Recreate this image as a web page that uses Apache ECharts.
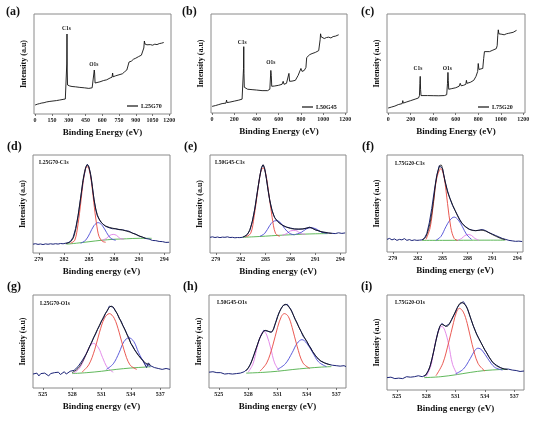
<!DOCTYPE html>
<html><head><meta charset="utf-8">
<script src="https://cdn.jsdelivr.net/npm/echarts@6/dist/echarts.min.js"></script>
<style>html,body{margin:0;padding:0;background:#fff}#c{width:537px;height:421px}</style>
</head><body><div id="c"></div>
<script>
// ---------- DATA ----------
const surveyTicksA = [0,150,300,450,600,750,900,1050,1200];
const surveyTicksBC = [0,200,400,600,800,1000,1200];
const c1sTicks = [279,282,285,288,291,294];
const o1sTicks = [525,528,531,534,537];
const sampleNames = ['L25G70','L50G45','L75G20'];
const c1sNames = ['L25G70-C1s','L50G45-C1s','L75G20-C1s'];
const o1sNames = ['L25G70-O1s','L50G45-O1s','L75G20-O1s'];
const panelLetters = ['(a)','(b)','(c)','(d)','(e)','(f)','(g)','(h)','(i)'];

const surveyA = [[0,0.09],[20,0.098],[40,0.104],[60,0.11],[80,0.113],[100,0.12],[105,0.135],[110,0.12],[125,0.125],[130,0.14],[135,0.125],[160,0.13],[190,0.134],[220,0.14],[250,0.146],[270,0.15],[280,0.17],[283,0.5],[285,0.80],[287,0.45],[290,0.29],[295,0.28],[300,0.30],[310,0.28],[330,0.275],[360,0.272],[400,0.266],[440,0.262],[480,0.256],[510,0.262],[525,0.28],[529,0.44],[532,0.41],[536,0.31],[550,0.312],[580,0.322],[610,0.334],[640,0.342],[670,0.36],[688,0.368],[693,0.41],[697,0.372],[720,0.382],[750,0.392],[780,0.402],[800,0.422],[820,0.44],[830,0.48],[840,0.52],[860,0.528],[880,0.548],[900,0.558],[925,0.574],[950,0.588],[965,0.60],[972,0.66],[977,0.73],[982,0.70],[990,0.684],[1000,0.692],[1010,0.686],[1030,0.694],[1050,0.688],[1070,0.698],[1090,0.694],[1110,0.704],[1130,0.708],[1150,0.715]];
const surveyB = [[0,0.067],[30,0.075],[60,0.085],[90,0.095],[100,0.11],[105,0.095],[125,0.10],[130,0.13],[135,0.105],[160,0.11],[200,0.12],[240,0.13],[270,0.14],[280,0.16],[283,0.45],[285,0.67],[287,0.40],[290,0.26],[300,0.245],[320,0.24],[360,0.236],[400,0.232],[450,0.226],[500,0.226],[520,0.24],[529,0.43],[533,0.38],[537,0.27],[560,0.272],[600,0.28],[630,0.29],[640,0.32],[648,0.29],[670,0.30],[688,0.305],[692,0.40],[698,0.32],[720,0.322],[750,0.33],[775,0.38],[790,0.40],[800,0.45],[810,0.42],[830,0.43],[845,0.46],[852,0.56],[860,0.58],[880,0.59],[900,0.60],[930,0.612],[960,0.63],[968,0.65],[973,0.74],[977,0.80],[982,0.77],[995,0.76],[1010,0.752],[1030,0.762],[1050,0.766],[1070,0.758],[1090,0.772],[1110,0.776],[1125,0.782],[1140,0.79]];
const surveyC = [[0,0.05],[30,0.06],[60,0.07],[90,0.085],[100,0.10],[105,0.085],[125,0.095],[130,0.125],[135,0.10],[160,0.11],[200,0.125],[240,0.14],[270,0.152],[278,0.175],[282,0.30],[285,0.37],[288,0.24],[292,0.176],[300,0.178],[350,0.176],[400,0.175],[450,0.174],[500,0.176],[520,0.185],[527,0.30],[531,0.41],[534,0.33],[538,0.24],[560,0.245],[600,0.255],[630,0.27],[640,0.30],[648,0.275],[670,0.28],[690,0.29],[695,0.33],[700,0.30],[730,0.31],[760,0.33],[780,0.37],[795,0.42],[800,0.50],[806,0.44],[820,0.43],[840,0.45],[848,0.55],[855,0.62],[870,0.61],[900,0.62],[930,0.635],[960,0.65],[968,0.68],[973,0.78],[978,0.84],[983,0.80],[995,0.79],[1010,0.795],[1030,0.79],[1050,0.80],[1070,0.805],[1090,0.81],[1110,0.815],[1125,0.82],[1140,0.835]];
// peak label positions [text, x, y]
const surveyPeakLabels = [
  [['C1s',280,0.85],['O1s',525,0.49]],
  [['C1s',270,0.71],['O1s',529,0.505]],
  [['C1s',265,0.445],['O1s',526,0.445]]
];

// C1s (d)
const dRaw = [[278.3,0.09],[278.6,0.095],[278.9,0.088],[279.2,0.092],[279.5,0.086],[279.8,0.093],[280.1,0.089],[280.4,0.094],[280.7,0.09],[281,0.095],[281.3,0.091],[281.6,0.097],[281.9,0.094],[282.2,0.1],[282.5,0.105],[282.8,0.12],[283.1,0.16],[283.4,0.25],[283.7,0.38],[284,0.56],[284.3,0.74],[284.6,0.87],[284.8,0.905],[285,0.88],[285.2,0.8],[285.4,0.68],[285.6,0.55],[285.8,0.45],[286,0.38],[286.3,0.33],[286.6,0.3],[287,0.272],[287.4,0.258],[287.8,0.248],[288.2,0.247],[288.6,0.238],[289,0.237],[289.4,0.228],[289.8,0.222],[290.2,0.203],[290.6,0.192],[291,0.173],[291.4,0.162],[291.8,0.148],[292.2,0.142],[292.6,0.128],[293,0.126],[293.4,0.118],[293.8,0.116],[294.2,0.108],[294.6,0.11]];
const dFit = [[282.2,0.095],[282.8,0.115],[283.2,0.17],[283.6,0.33],[284,0.56],[284.4,0.8],[284.8,0.9],[285.2,0.8],[285.6,0.55],[286,0.39],[286.5,0.31],[287,0.275],[288,0.25],[289,0.235],[290,0.21],[291,0.175],[291.8,0.15]];
const dRed = [[282.8,0.1],[283.3,0.13],[283.7,0.3],[284,0.5],[284.3,0.72],[284.6,0.86],[284.8,0.88],[285,0.86],[285.3,0.72],[285.6,0.5],[285.9,0.3],[286.2,0.17],[286.6,0.12],[287,0.11]];
const dBlue = [[284,0.1],[284.6,0.13],[285.1,0.2],[285.6,0.28],[286.1,0.31],[286.6,0.28],[287.1,0.21],[287.6,0.15],[288.2,0.13]];
const dPink = [[286.6,0.13],[287.1,0.15],[287.5,0.18],[287.9,0.19],[288.3,0.18],[288.7,0.15],[289.2,0.14]];
const dGreen = [[282.3,0.09],[283.5,0.1],[285,0.115],[286.5,0.13],[288,0.14],[289.5,0.145],[291,0.15],[292.5,0.15]];

// C1s (e)
const eRaw = [[278.3,0.16],[278.6,0.165],[278.9,0.158],[279.2,0.163],[279.5,0.157],[279.8,0.162],[280.1,0.16],[280.4,0.165],[280.7,0.158],[281,0.16],[281.3,0.155],[281.6,0.158],[281.9,0.157],[282.2,0.16],[282.5,0.17],[282.8,0.19],[283.1,0.23],[283.4,0.32],[283.7,0.45],[284,0.62],[284.3,0.78],[284.5,0.87],[284.7,0.9],[284.9,0.86],[285.1,0.76],[285.3,0.64],[285.5,0.54],[285.8,0.43],[286.1,0.36],[286.5,0.32],[287,0.285],[287.5,0.265],[288,0.255],[288.5,0.245],[289,0.242],[289.5,0.246],[290,0.255],[290.3,0.264],[290.6,0.255],[291,0.236],[291.4,0.226],[291.8,0.214],[292.2,0.211],[292.6,0.204],[293,0.201],[293.4,0.198],[293.8,0.206],[294.2,0.2],[294.6,0.205]];
const eFit = [[282.3,0.165],[282.8,0.19],[283.3,0.29],[283.8,0.5],[284.3,0.78],[284.7,0.9],[285.1,0.76],[285.5,0.54],[286,0.38],[286.6,0.31],[287.5,0.265],[288.5,0.245],[289.5,0.245],[290.3,0.26],[291,0.237],[292,0.212],[293,0.2]];
const eRed = [[282.6,0.165],[283.2,0.2],[283.6,0.36],[284,0.6],[284.4,0.82],[284.7,0.87],[285,0.82],[285.4,0.6],[285.8,0.36],[286.2,0.2],[286.7,0.17]];
const eBlue = [[284.3,0.17],[284.9,0.2],[285.5,0.28],[285.9,0.32],[286.3,0.33],[286.8,0.31],[287.3,0.25],[287.9,0.2],[288.5,0.185]];
const ePink = [[287,0.18],[287.6,0.2],[288,0.225],[288.4,0.23],[288.8,0.225],[289.2,0.2],[289.8,0.19]];
const eBlue2 = [[288.6,0.19],[289.3,0.21],[289.9,0.245],[290.5,0.258],[291.1,0.245],[291.7,0.215],[292.4,0.2]];
const eGreen = [[282.2,0.16],[283.5,0.165],[285,0.172],[286.5,0.18],[288,0.186],[289.5,0.192],[291,0.196],[292.5,0.198]];

// C1s (f)
const fRaw = [[278.3,0.13],[278.6,0.14],[278.9,0.125],[279.2,0.135],[279.5,0.12],[279.8,0.13],[280.1,0.125],[280.4,0.138],[280.7,0.12],[281,0.128],[281.3,0.118],[281.6,0.125],[281.9,0.12],[282.2,0.122],[282.5,0.125],[282.8,0.14],[283.1,0.19],[283.4,0.3],[283.7,0.45],[284,0.63],[284.3,0.79],[284.6,0.89],[284.8,0.91],[285,0.86],[285.3,0.73],[285.6,0.63],[285.9,0.55],[286.2,0.48],[286.5,0.43],[286.8,0.38],[287.1,0.33],[287.4,0.29],[287.8,0.26],[288.2,0.235],[288.6,0.225],[289,0.22],[289.4,0.225],[289.8,0.232],[290.2,0.22],[290.6,0.2],[291,0.185],[291.4,0.17],[291.8,0.155],[292.2,0.14],[292.6,0.13],[293,0.12],[293.4,0.115],[293.8,0.11],[294.2,0.112],[294.6,0.108]];
const fFit = [[282.6,0.125],[283,0.16],[283.5,0.3],[283.9,0.52],[284.3,0.78],[284.8,0.9],[285.2,0.77],[285.6,0.62],[286,0.53],[286.5,0.43],[287,0.34],[287.5,0.28],[288,0.245],[288.5,0.225],[289,0.22],[289.6,0.225],[290.2,0.215],[291,0.18],[292,0.14],[292.6,0.125]];
const fRed = [[283,0.13],[283.5,0.25],[283.9,0.5],[284.3,0.76],[284.8,0.86],[285.2,0.76],[285.6,0.5],[286,0.25],[286.4,0.14],[286.8,0.12]];
const fBlue = [[284.2,0.12],[284.8,0.16],[285.4,0.26],[285.9,0.33],[286.4,0.36],[286.9,0.33],[287.4,0.26],[287.9,0.18],[288.5,0.13]];
const fPink = [[286.8,0.12],[287.3,0.14],[287.7,0.17],[288.1,0.18],[288.5,0.17],[288.9,0.14],[289.4,0.12]];
const fGreen = [[282.5,0.12],[285,0.12],[287.5,0.121],[290,0.122],[292.5,0.122]];

// O1s (g)
const gRaw = [[524,0.15],[524.2,0.14],[524.4,0.16],[524.6,0.13],[524.8,0.155],[525,0.14],[525.2,0.16],[525.4,0.145],[525.6,0.13],[525.8,0.155],[526,0.14],[526.2,0.165],[526.4,0.15],[526.6,0.17],[526.8,0.145],[527,0.16],[527.2,0.175],[527.4,0.15],[527.6,0.17],[527.8,0.18],[528,0.17],[528.2,0.19],[528.4,0.2],[528.6,0.23],[528.8,0.25],[529,0.29],[529.2,0.31],[529.4,0.36],[529.6,0.4],[529.8,0.45],[530,0.49],[530.2,0.54],[530.4,0.58],[530.6,0.63],[530.8,0.67],[531,0.72],[531.2,0.75],[531.4,0.8],[531.6,0.83],[531.8,0.88],[532,0.89],[532.2,0.87],[532.4,0.83],[532.6,0.8],[532.8,0.75],[533,0.72],[533.2,0.67],[533.4,0.63],[533.6,0.58],[533.8,0.54],[534,0.48],[534.2,0.45],[534.4,0.41],[534.6,0.39],[534.8,0.35],[535,0.33],[535.2,0.3],[535.4,0.28],[535.6,0.22],[535.8,0.27],[536,0.24],[536.2,0.25],[536.4,0.22],[536.6,0.24],[536.8,0.21],[537,0.23],[537.2,0.2],[537.4,0.22],[537.6,0.21],[537.8,0.22],[538,0.2]];
const gFit = [[528,0.165],[528.6,0.21],[529.2,0.31],[529.8,0.45],[530.4,0.59],[531,0.72],[531.5,0.82],[532,0.88],[532.5,0.82],[533,0.71],[533.5,0.6],[534,0.48],[534.5,0.39],[535,0.32],[535.5,0.27],[536,0.245]];
const gRed = [[529,0.17],[529.7,0.25],[530.3,0.41],[530.8,0.6],[531.3,0.75],[531.8,0.8],[532.3,0.75],[532.8,0.6],[533.3,0.41],[533.9,0.25],[534.6,0.2]];
const gBlue = [[531.5,0.2],[532.2,0.26],[532.8,0.38],[533.3,0.5],[533.8,0.54],[534.3,0.5],[534.8,0.38],[535.4,0.27],[536,0.23]];
const gPink = [[528.2,0.16],[528.8,0.22],[529.3,0.33],[529.7,0.43],[530.2,0.48],[530.7,0.43],[531.1,0.33],[531.6,0.22],[532.2,0.17]];
const gGreen = [[528,0.155],[529.5,0.165],[531,0.18],[532.5,0.2],[534,0.215],[535.5,0.225],[536,0.228]];

// O1s (h)
const hRaw = [[524,0.17],[524.2,0.16],[524.4,0.175],[524.6,0.155],[524.8,0.165],[525,0.15],[525.2,0.165],[525.4,0.16],[525.6,0.15],[525.8,0.165],[526,0.155],[526.2,0.16],[526.4,0.15],[526.6,0.16],[526.8,0.155],[527,0.165],[527.2,0.16],[527.4,0.17],[527.6,0.175],[527.8,0.19],[528,0.21],[528.2,0.25],[528.4,0.3],[528.6,0.36],[528.8,0.42],[529,0.48],[529.2,0.54],[529.4,0.58],[529.6,0.62],[529.8,0.63],[530,0.61],[530.2,0.6],[530.4,0.6],[530.6,0.63],[530.8,0.7],[531,0.77],[531.2,0.82],[531.4,0.86],[531.6,0.89],[531.8,0.91],[532,0.9],[532.2,0.87],[532.4,0.84],[532.6,0.79],[532.8,0.74],[533,0.7],[533.2,0.65],[533.4,0.61],[533.6,0.56],[533.8,0.53],[534,0.5],[534.2,0.46],[534.4,0.43],[534.6,0.39],[534.8,0.36],[535,0.33],[535.2,0.31],[535.4,0.29],[535.6,0.28],[535.8,0.27],[536,0.26],[536.2,0.255],[536.4,0.25],[536.6,0.245],[536.8,0.25],[537,0.24],[537.2,0.245],[537.4,0.235],[537.6,0.25],[537.8,0.24],[538,0.23]];
const hFit = [[527.8,0.185],[528.3,0.27],[528.8,0.42],[529.3,0.56],[529.8,0.62],[530.3,0.6],[530.8,0.7],[531.3,0.84],[531.8,0.9],[532.3,0.85],[532.8,0.74],[533.4,0.61],[534,0.5],[534.6,0.39],[535.2,0.31],[535.8,0.27],[536.4,0.25]];
const hRed = [[529.2,0.18],[529.9,0.27],[530.5,0.45],[531,0.65],[531.4,0.77],[531.7,0.8],[532.1,0.77],[532.5,0.65],[533,0.45],[533.6,0.27],[534.3,0.21]];
const hBlue = [[531,0.2],[531.8,0.26],[532.5,0.38],[533,0.48],[533.5,0.52],[534,0.48],[534.6,0.38],[535.2,0.28],[536,0.23]];
const hPink = [[528,0.17],[528.5,0.26],[528.9,0.43],[529.3,0.57],[529.6,0.61],[529.9,0.57],[530.3,0.43],[530.7,0.27],[531.2,0.18]];
const hGreen = [[527.8,0.16],[529.5,0.168],[531,0.18],[532.5,0.198],[534,0.213],[535.5,0.225],[536.5,0.23]];

// O1s (i)
const iRaw = [[524,0.13],[524.2,0.125],[524.4,0.135],[524.6,0.13],[524.8,0.12],[525,0.13],[525.2,0.125],[525.4,0.135],[525.6,0.12],[525.8,0.13],[526,0.14],[526.2,0.125],[526.4,0.135],[526.6,0.13],[526.8,0.14],[527,0.135],[527.2,0.15],[527.4,0.13],[527.6,0.14],[527.8,0.145],[528,0.16],[528.2,0.2],[528.4,0.25],[528.6,0.33],[528.8,0.42],[529,0.52],[529.2,0.61],[529.4,0.67],[529.6,0.7],[529.8,0.69],[530,0.67],[530.2,0.67],[530.4,0.7],[530.6,0.74],[530.8,0.78],[531,0.82],[531.2,0.87],[531.4,0.9],[531.6,0.92],[531.8,0.93],[532,0.9],[532.2,0.86],[532.4,0.8],[532.6,0.74],[532.8,0.68],[533,0.63],[533.2,0.58],[533.4,0.54],[533.6,0.5],[533.8,0.46],[534,0.42],[534.2,0.39],[534.4,0.35],[534.6,0.32],[534.8,0.29],[535,0.27],[535.2,0.26],[535.4,0.25],[535.6,0.235],[535.8,0.23],[536,0.22],[536.2,0.215],[536.4,0.22],[536.6,0.2],[536.8,0.21],[537,0.2],[537.2,0.205],[537.4,0.2],[537.6,0.195],[537.8,0.2],[538,0.2]];
const iFit = [[527.8,0.14],[528.3,0.22],[528.8,0.42],[529.2,0.6],[529.6,0.69],[530.1,0.67],[530.6,0.74],[531.1,0.85],[531.6,0.92],[532.1,0.88],[532.6,0.74],[533.1,0.6],[533.7,0.48],[534.3,0.37],[535,0.27],[535.7,0.23],[536.3,0.215]];
const iRed = [[529,0.15],[529.7,0.28],[530.3,0.5],[530.8,0.71],[531.1,0.82],[531.4,0.86],[531.8,0.82],[532.2,0.7],[532.7,0.48],[533.3,0.28],[534,0.2]];
const iBlue = [[531,0.17],[531.8,0.22],[532.5,0.33],[533,0.42],[533.3,0.44],[533.7,0.42],[534.3,0.33],[535,0.24],[535.8,0.21]];
const iPink = [[528,0.14],[528.5,0.26],[528.9,0.48],[529.3,0.63],[529.6,0.67],[529.9,0.63],[530.3,0.48],[530.7,0.27],[531.2,0.16]];
const iGreen = [[527.8,0.13],[529.5,0.14],[531,0.16],[532.5,0.185],[534,0.205],[535.5,0.215],[536.3,0.218]];

// ---------- LAYOUT / STYLE ----------
const SERIF = '"Liberation Serif", "DejaVu Serif", serif';
const grids = [
  {left:34, top:14, width:137, height:100},
  {left:211, top:14, width:136, height:99},
  {left:387, top:14, width:138, height:99},
  {left:33, top:155, width:137, height:98},
  {left:210, top:155, width:136, height:98},
  {left:387, top:155, width:136, height:97},
  {left:33, top:295, width:137, height:93},
  {left:209, top:295, width:137, height:93},
  {left:387, top:295, width:137, height:95}
];
const xCfg = [
  {min:-10, max:1215, ticks:surveyTicksA, name:'Binding Energy (eV)'},
  {min:-10, max:1215, ticks:surveyTicksBC, name:'Binding Energy (eV)'},
  {min:-10, max:1215, ticks:surveyTicksBC, name:'Binding Energy (eV)'},
  {min:278.3, max:294.7, ticks:c1sTicks, name:'Binding energy (eV)'},
  {min:278.3, max:294.7, ticks:c1sTicks, name:'Binding energy (eV)'},
  {min:278.3, max:294.7, ticks:c1sTicks, name:'Binding energy (eV)'},
  {min:524, max:538, ticks:o1sTicks, name:'Binding energy (eV)'},
  {min:524, max:538, ticks:o1sTicks, name:'Binding energy (eV)'},
  {min:524, max:538, ticks:o1sTicks, name:'Binding energy (eV)'}
];
const C = {raw:'#1c2478', fit:'#111111', red:'#e8473f', blue:'#4b4bd6', pink:'#e07ee6', green:'#4fb04a'};

function line(name, data, gi, color, width, smooth, z) {
  return {type:'line', name, data, xAxisIndex:gi, yAxisIndex:gi, symbol:'none', showSymbol:false,
    smooth: smooth ? 0.35 : false, lineStyle:{color, width}, itemStyle:{color}, silent:true, z: z||2};
}

const series = [];
const surveys = [surveyA, surveyB, surveyC];
surveys.forEach((d, i) => {
  const s = line(sampleNames[i], d, i, '#111', 0.9, false, 3);
  s.markPoint = {symbol:'circle', symbolSize:0, silent:true,
    label:{show:true, position:'inside', formatter:'{b}', fontSize:5.5, fontWeight:'bold', fontFamily:SERIF, color:'#111'},
    data: surveyPeakLabels[i].map(p => ({name:p[0], coord:[p[1], p[2]]}))};
  series.push(s);
});
const fits = [
  {raw:dRaw, fit:dFit, red:dRed, blue:dBlue, pink:dPink, green:dGreen},
  {raw:eRaw, fit:eFit, red:eRed, blue:eBlue, pink:ePink, green:eGreen, blue2:eBlue2},
  {raw:fRaw, fit:fFit, red:fRed, blue:fBlue, pink:fPink, green:fGreen},
  {raw:gRaw, fit:gFit, red:gRed, blue:gBlue, pink:gPink, green:gGreen},
  {raw:hRaw, fit:hFit, red:hRed, blue:hBlue, pink:hPink, green:hGreen},
  {raw:iRaw, fit:iFit, red:iRed, blue:iBlue, pink:iPink, green:iGreen}
];
fits.forEach((f, k) => {
  const gi = k + 3;
  series.push(line('green'+gi, f.green, gi, C.green, 0.9, true, 2));
  series.push(line('pink'+gi, f.pink, gi, C.pink, 0.9, true, 2));
  series.push(line('blue'+gi, f.blue, gi, C.blue, 0.9, true, 2));
  if (f.blue2) series.push(line('blue2'+gi, f.blue2, gi, C.blue, 0.9, true, 2));
  series.push(line('red'+gi, f.red, gi, C.red, 0.9, true, 2));
  series.push(line('raw'+gi, f.raw, gi, C.raw, 1, false, 3));
  series.push(line('fit'+gi, f.fit, gi, C.fit, 0.8, true, 4));
});

const xAxis = xCfg.map((c, i) => ({
  gridIndex:i, type:'value', min:c.min, max:c.max,
  axisLine:{show:false}, splitLine:{show:false},
  axisTick:{show:true, length:2, customValues:c.ticks, lineStyle:{color:'#555', width:0.8}},
  axisLabel:{show:true, customValues:c.ticks, formatter: v => String(v), fontSize:6, fontWeight:'bold', fontFamily:SERIF, color:'#222', margin:3},
  name:c.name, nameLocation:'middle', nameGap:14,
  nameTextStyle:{fontSize:9, fontWeight:'bold', fontFamily:SERIF, color:'#111'}
}));
const yAxis = grids.map((g, i) => ({
  gridIndex:i, type:'value', min:0, max:1,
  axisLine:{show:false}, axisTick:{show:false}, axisLabel:{show:false}, splitLine:{show:false},
  name:'Intensity (a.u)', nameLocation:'middle', nameGap:6,
  nameTextStyle:{fontSize:8, fontWeight:'bold', fontFamily:SERIF, color:'#111'}
}));

const legendPos = [{left:127, top:103}, {left:302, top:104}, {left:478, top:104}];
const legend = sampleNames.map((n, i) => ({
  data:[{name:n, icon:'rect'}], left:legendPos[i].left, top:legendPos[i].top, itemWidth:11, itemHeight:1.2, itemGap:2, padding:0,
  textStyle:{fontSize:6, fontWeight:'bold', fontFamily:SERIF, color:'#111', padding:[0,0,0,-2]},
  selectedMode:false
}));

const letterPos = [[6,6],[182,6],[361,6],[7,141],[184,141],[362,141],[7,281],[183,281],[361,281]];
const labelPos = [[39,163],[215,163],[395,164],[40,304],[217,303],[395,303]];
const graphic = [];
panelLetters.forEach((t, i) => graphic.push({type:'text', left:letterPos[i][0], top:letterPos[i][1],
  style:{text:t, font:'bold 12px ' + SERIF, fill:'#111'}}));
c1sNames.concat(o1sNames).forEach((t, i) => graphic.push({type:'text', x:labelPos[i][0], y:labelPos[i][1],
  style:{text:t, font:'bold 5.5px ' + SERIF, fill:'#111', textVerticalAlign:'middle'}}));

const chart = echarts.init(document.getElementById('c'), null, {renderer:'canvas'});
chart.setOption({
  animation:false,
  backgroundColor:'#fff',
  grid: grids.map(g => Object.assign({show:true, borderColor:'#8a8a8a', borderWidth:1, backgroundColor:'transparent', containLabel:false, outerBoundsMode:'none'}, g)),
  xAxis, yAxis, series, legend, graphic
});
</script></body></html>
